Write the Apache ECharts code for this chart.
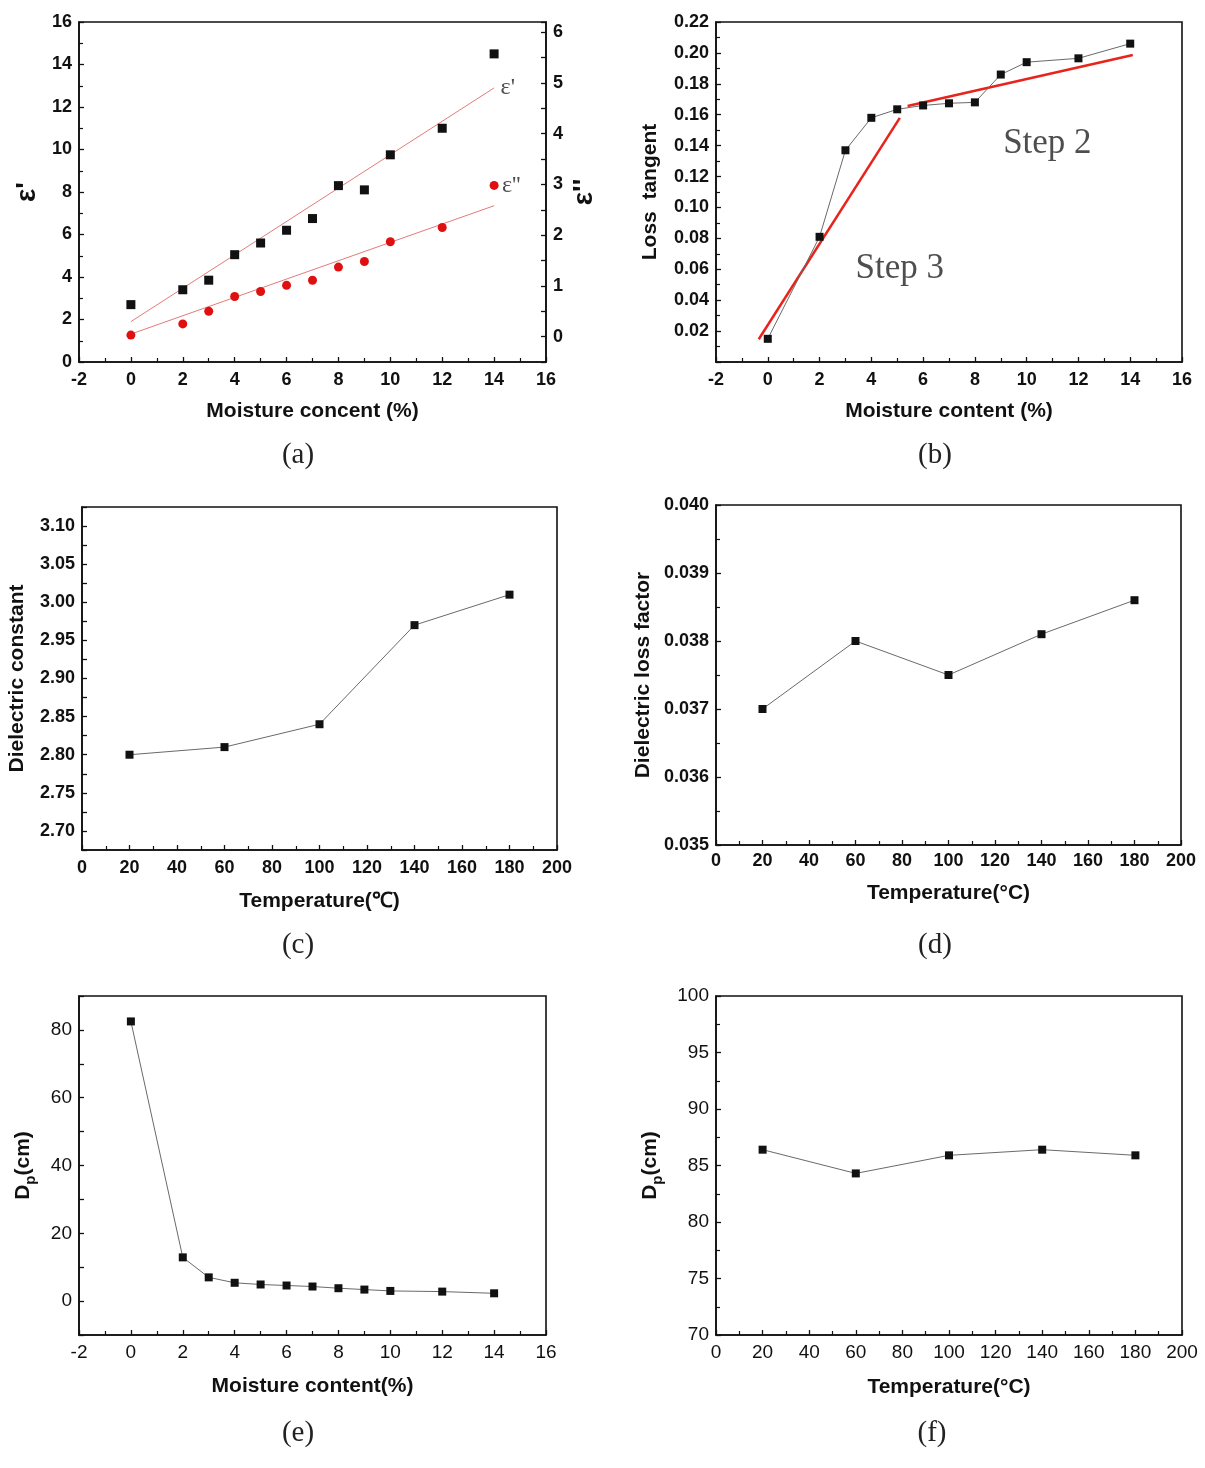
<!DOCTYPE html>
<html>
<head>
<meta charset="utf-8">
<title>Dielectric properties vs moisture and temperature</title>
<script src="https://cdn.jsdelivr.net/npm/echarts@6/dist/echarts.min.js"></script>
<style>
    html, body { margin: 0; padding: 0; background: #fff; }
    #main { width: 1205px; height: 1468px; }
</style>
</head>
<body>
<div id="main"></div>
<script>
// 含水率数据 (a) (b) (e)
var moisture = [0, 2, 3, 4, 5, 6, 7, 8, 9, 10, 12, 14];
var epsReal = [2.7, 3.4, 3.85, 5.05, 5.6, 6.2, 6.75, 8.3, 8.1, 9.75, 11.0, 14.5];
var epsImag = [0.03, 0.25, 0.5, 0.79, 0.89, 1.01, 1.11, 1.37, 1.48, 1.87, 2.15, 2.98];
var epsRealFit = [[0, 1.9], [14, 12.9]];
var epsImagFit = [[0, 0.05], [14, 2.58]];
var lossTangent = [0.015, 0.081, 0.137, 0.158, 0.1635, 0.166, 0.1674, 0.168, 0.186, 0.194, 0.1965, 0.206];
var step3Fit = [[-0.35, 0.0147], [5.1, 0.158]];
var step2Fit = [[5.4, 0.1657], [14.1, 0.1986]];
var depthMoisture = [82.5, 12.9, 7.0, 5.4, 4.9, 4.6, 4.3, 3.8, 3.4, 3.0, 2.8, 2.3];

// 温度数据 (c) (d) (f)
var temperature = [20, 60, 100, 140, 180];
var dielConst = [2.80, 2.81, 2.84, 2.97, 3.01];
var lossFactor = [0.0370, 0.0380, 0.0375, 0.0381, 0.0386];
var depthTemp = [86.4, 84.3, 85.9, 86.4, 85.9];

// 注释文字
var epsLabels = [['ε\'', 14.25, 12.9], ['ε\'\'', 14.3, 2.97]];
var stepLabels = [['Step 2', 10.8, 0.141], ['Step 3', 5.1, 0.06]];

var SANS = '"Liberation Sans", Arial, sans-serif';
var SERIF = '"Liberation Serif", "Times New Roman", serif';
var INK = '#111';

function pairs(xs, ys) {
    return xs.map(function(x, i) { return [x, ys[i]]; });
}

function grid(left, top, width, height) {
    return {
        left: left, top: top, width: width, height: height,
        show: true,
        borderColor: INK,
        borderWidth: 1.6,
        backgroundColor: 'transparent',
        outerBoundsMode: 'none'
    };
}

// 坐标轴
function axis(gridIndex, min, max, interval, opt) {
    opt = opt || {};
    var a = {
        type: 'value',
        gridIndex: gridIndex,
        min: min,
        max: max,
        interval: interval,
        name: opt.name || '',
        nameLocation: 'middle',
        nameGap: opt.nameGap || 40,
        nameRotate: opt.nameRotate,
        nameTextStyle: {
            fontFamily: SANS,
            fontWeight: 'bold',
            fontSize: opt.nameSize || 21,
            color: INK,
            rich: opt.rich
        },
        position: opt.position,
        axisLine: { show: true, onZero: false, lineStyle: { color: INK, width: 1.6 } },
        axisTick: { show: true, inside: true, length: 5, lineStyle: { color: INK, width: 1.3 } },
        minorTick: { show: !!opt.minor, splitNumber: 2, length: 4, lineStyle: { color: INK, width: 1.2 } },
        splitLine: { show: false },
        minorSplitLine: { show: false },
        axisLabel: {
            fontFamily: SANS,
            fontWeight: opt.labelWeight || 'bold',
            fontSize: opt.labelSize || 18,
            color: INK,
            margin: opt.margin || 7,
            showMinLabel: true,
            showMaxLabel: true,
            formatter: opt.formatter
        }
    };
    return a;
}

function markerLine(xi, yi, data) {
    return {
        type: 'line',
        xAxisIndex: xi,
        yAxisIndex: yi,
        data: data,
        symbol: 'rect',
        symbolSize: 8,
        itemStyle: { color: INK, opacity: 1 },
        lineStyle: { color: '#6a6a6a', width: 1 },
        z: 3
    };
}

function fitLine(xi, yi, data, color, width) {
    return {
        type: 'line',
        xAxisIndex: xi,
        yAxisIndex: yi,
        data: data,
        symbol: 'none',
        lineStyle: { color: color, width: width },
        z: 2
    };
}

function textMarks(xi, yi, list, font, size, pos) {
    return {
        type: 'scatter',
        xAxisIndex: xi,
        yAxisIndex: yi,
        symbolSize: 0,
        data: list.map(function(t) { return { name: t[0], value: [t[1], t[2]] }; }),
        label: {
            show: true,
            position: pos,
            distance: 0,
            formatter: '{b}',
            fontFamily: font,
            fontSize: size,
            color: '#222'
        },
        z: 4
    };
}

function caption(text, x, y) {
    return {
        type: 'text',
        x: x,
        y: y,
        style: {
            text: text,
            fontFamily: SERIF,
            fontSize: 29,
            fill: '#222',
            align: 'center',
            verticalAlign: 'middle'
        }
    };
}

var dpRich = {
    b: { fontFamily: SANS, fontWeight: 'bold', fontSize: 21, color: INK, lineHeight: 30, verticalAlign: 'middle' },
    s: { fontFamily: SANS, fontWeight: 'bold', fontSize: 15, color: INK, lineHeight: 15, verticalAlign: 'bottom' }
};

var chart = echarts.init(document.getElementById('main'), null, { renderer: 'canvas' });

var option = {
    animation: false,
    backgroundColor: '#fff',
    grid: [
        grid(79, 22, 467, 340),
        grid(716, 22, 466, 340),
        grid(82, 507, 475, 343),
        grid(716, 505, 465, 340),
        grid(79, 996, 467, 339),
        grid(716, 996, 466, 339)
    ],
    xAxis: [
        axis(0, -2, 16, 2, { name: 'Moisture concent (%)', nameGap: 39, minor: true, margin: 9 }),
        axis(1, -2, 16, 2, { name: 'Moisture content (%)', nameGap: 39, minor: true, margin: 9 }),
        axis(2, 0, 200, 20, { name: 'Temperature(℃)', nameGap: 41, minor: true, margin: 9 }),
        axis(3, 0, 200, 20, { name: 'Temperature(°C)', nameGap: 38, minor: true, margin: 7 }),
        axis(4, -2, 16, 2, { name: 'Moisture content(%)', nameGap: 41, minor: true, margin: 8,
            labelWeight: 'normal', labelSize: 19 }),
        axis(5, 0, 200, 20, { name: 'Temperature(°C)', nameGap: 42, minor: true, margin: 8,
            labelWeight: 'normal', labelSize: 19 })
    ],
    yAxis: [
        axis(0, 0, 16, 2, { name: 'ε\'', nameGap: 38, nameRotate: 90, nameSize: 28, minor: true }),
        axis(0, -0.5, 6.2, 0.5, { name: 'ε\'\'', nameGap: 24, nameRotate: 90, nameSize: 28, position: 'right',
            formatter: function(v) { return Math.abs(v - Math.round(v)) < 1e-6 ? String(Math.round(v)) : ''; } }),
        axis(1, 0, 0.22, 0.02, { name: 'Loss  tangent', nameGap: 55, nameRotate: 90, minor: true,
            formatter: function(v) { return v < 0.001 ? '' : v.toFixed(2); } }),
        axis(2, 2.675, 3.125, 0.025, { name: 'Dielectric constant', nameGap: 54, nameRotate: 90,
            formatter: function(v) {
                var k = Math.round(v * 1000);
                return (k % 50 === 0 && k >= 2700 && k <= 3100) ? v.toFixed(2) : '';
            } }),
        axis(3, 0.035, 0.040, 0.001, { name: 'Dielectric loss factor', nameGap: 62, nameRotate: 90, minor: true,
            formatter: function(v) { return v.toFixed(3); } }),
        axis(4, -10, 90, 10, { name: '{b|D}{s|p}{b|(cm)}', rich: dpRich, nameGap: 41, nameRotate: 90,
            labelWeight: 'normal', labelSize: 19,
            formatter: function(v) { var k = Math.round(v); return (k >= 0 && k % 20 === 0) ? String(k) : ''; } }),
        axis(5, 70, 100, 5, { name: '{b|D}{s|p}{b|(cm)}', rich: dpRich, nameGap: 51, nameRotate: 90, minor: true,
            labelWeight: 'normal', labelSize: 19 })
    ],
    series: [
        // (a)
        fitLine(0, 0, epsRealFit, '#e47a7a', 1),
        fitLine(0, 1, epsImagFit, '#e47a7a', 1),
        {
            type: 'scatter', xAxisIndex: 0, yAxisIndex: 0,
            data: pairs(moisture, epsReal),
            symbol: 'rect', symbolSize: 9,
            itemStyle: { color: INK, opacity: 1 }, z: 3
        },
        {
            type: 'scatter', xAxisIndex: 0, yAxisIndex: 1,
            data: pairs(moisture, epsImag),
            symbol: 'circle', symbolSize: 9,
            itemStyle: { color: '#e01010', opacity: 1 }, z: 3
        },
        textMarks(0, 0, [epsLabels[0]], SERIF, 24, 'right'),
        textMarks(0, 1, [epsLabels[1]], SERIF, 24, 'right'),
        // (b)
        markerLine(1, 2, pairs(moisture, lossTangent)),
        fitLine(1, 2, step3Fit, '#e8231c', 2.5),
        fitLine(1, 2, step2Fit, '#e8231c', 2.5),
        textMarks(1, 2, stepLabels, SERIF, 35, 'inside'),
        // (c)
        markerLine(2, 3, pairs(temperature, dielConst)),
        // (d)
        markerLine(3, 4, pairs(temperature, lossFactor)),
        // (e)
        markerLine(4, 5, pairs(moisture, depthMoisture)),
        // (f)
        markerLine(5, 6, pairs(temperature, depthTemp))
    ],
    graphic: [
        caption('(a)', 298, 455),
        caption('(b)', 935, 455),
        caption('(c)', 298, 945),
        caption('(d)', 935, 945),
        caption('(e)', 298, 1433),
        caption('(f)', 932, 1433)
    ]
};

chart.setOption(option);
</script>
</body>
</html>
